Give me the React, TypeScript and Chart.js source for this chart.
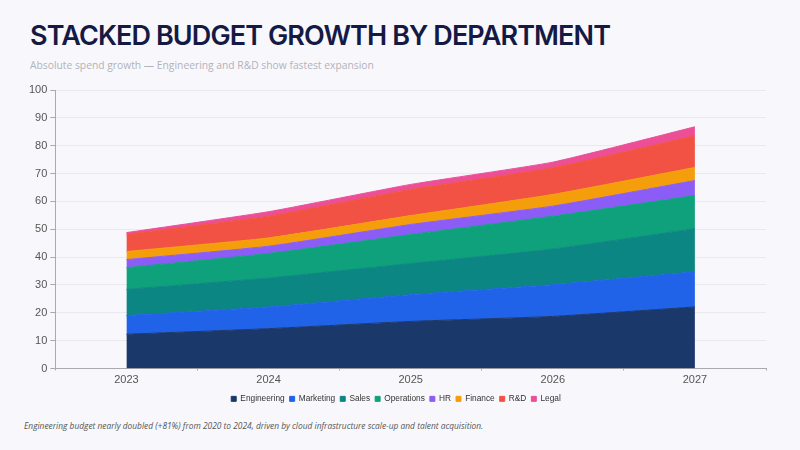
import React, { useEffect, useRef } from "react";
import { Chart, registerables } from "chart.js";

Chart.register(...registerables);

const years = ["2023", "2024", "2025", "2026", "2027"];
const engineering = [12.3, 14.3, 16.9, 18.7, 22.1];
const marketing = [6.7, 7.8, 9.6, 11.4, 12.6];
const sales = [9.4, 10.4, 11.2, 12.8, 15.5];
const operations = [7.8, 8.8, 10.4, 11.8, 11.9];
const hr = [2.9, 2.6, 3.6, 3.6, 5.4];
const finance = [2.9, 3.0, 3.2, 4.2, 4.7];
const rnd = [6.2, 7.8, 9.4, 9.6, 11.4];
const legal = [0.6, 1.6, 1.8, 2.0, 3.2];

const seriesNames = ["Engineering", "Marketing", "Sales", "Operations", "HR", "Finance", "R&D", "Legal"];
const seriesColors = ["#1b386b", "#2163e8", "#0b8682", "#0fa17c", "#8b5cf6", "#f59e0b", "#f25243", "#ec4f96"];
const seriesValues = [engineering, marketing, sales, operations, hr, finance, rnd, legal];
const yTicks = [0, 10, 20, 30, 40, 50, 60, 70, 80, 90, 100];

export default function App() {
  const ref = useRef<HTMLCanvasElement | null>(null);

  useEffect(() => {
    if (!ref.current) return;
    const chart = new Chart(ref.current, {
      type: "line",
      data: {
        labels: years,
        datasets: seriesValues.map((vals, i) => ({
          label: seriesNames[i],
          data: vals,
          backgroundColor: seriesColors[i],
          borderColor: seriesColors[i],
          borderWidth: 1,
          pointRadius: 0,
          tension: 0.15,
          fill: i === 0 ? "origin" : "-1",
        })),
      },
      options: {
        animation: false,
        responsive: false,
        maintainAspectRatio: false,
        layout: { padding: { left: 26, right: 34, top: 10, bottom: 0 } },
        plugins: {
          legend: {
            position: "bottom",
            labels: {
              usePointStyle: true,
              pointStyle: "rect",
              boxWidth: 5,
              boxHeight: 5,
              padding: 5,
              color: "#333",
              font: { family: "Liberation Sans, Arial, sans-serif", size: 8.3 },
            },
          },
          tooltip: { enabled: false },
        },
        scales: {
          x: {
            offset: true,
            grid: {
              offset: true,
              drawOnChartArea: false,
              drawTicks: true,
              tickLength: 2,
              tickColor: "#aaa",
            },
            border: { color: "#aaa", width: 1 },
            ticks: {
              color: "#555",
              padding: 3,
              font: { family: "Liberation Sans, Arial, sans-serif", size: 11 },
            },
          },
          y: {
            stacked: true,
            min: 0,
            max: 100,
            afterBuildTicks: (axis: any) => {
              axis.ticks = yTicks.map((v) => ({ value: v }));
            },
            grid: { color: "#e9e9ef", tickColor: "#aaa", tickLength: 5 },
            border: { color: "#aaa", width: 1 },
            ticks: {
              color: "#555",
              padding: 3,
              font: { family: "Liberation Sans, Arial, sans-serif", size: 11 },
            },
          },
        },
      },
    });
    return () => chart.destroy();
  }, []);

  return (
    <div
      style={{
        position: "fixed",
        left: 0,
        top: 0,
        width: 800,
        height: 450,
        background: "#f8f8fc",
        overflow: "hidden",
      }}
    >
      <div
        style={{
          position: "absolute",
          left: 30,
          top: 19,
          fontFamily: "Inter, sans-serif",
          fontWeight: 600,
          fontSize: 27,
          letterSpacing: -0.9,
          color: "#151a45",
          whiteSpace: "nowrap",
        }}
      >
        STACKED BUDGET GROWTH BY DEPARTMENT
      </div>
      <div
        style={{
          position: "absolute",
          left: 30,
          top: 58,
          fontFamily: "Open Sans, sans-serif",
          fontSize: 10.3,
          color: "#b2b2ba",
          whiteSpace: "nowrap",
        }}
      >
        Absolute spend growth — Engineering and R&amp;D show fastest expansion
      </div>
      <canvas
        ref={ref}
        width={800}
        height={333}
        style={{ position: "absolute", left: 0, top: 80, width: 800, height: 333 }}
      />
      <div
        style={{
          position: "absolute",
          left: 24,
          top: 420,
          fontFamily: "Open Sans, sans-serif",
          fontStyle: "italic",
          fontSize: 8.4,
          color: "#555",
          whiteSpace: "nowrap",
        }}
      >
        Engineering budget nearly doubled (+81%) from 2020 to 2024, driven by cloud infrastructure scale-up and talent acquisition.
      </div>
    </div>
  );
}
